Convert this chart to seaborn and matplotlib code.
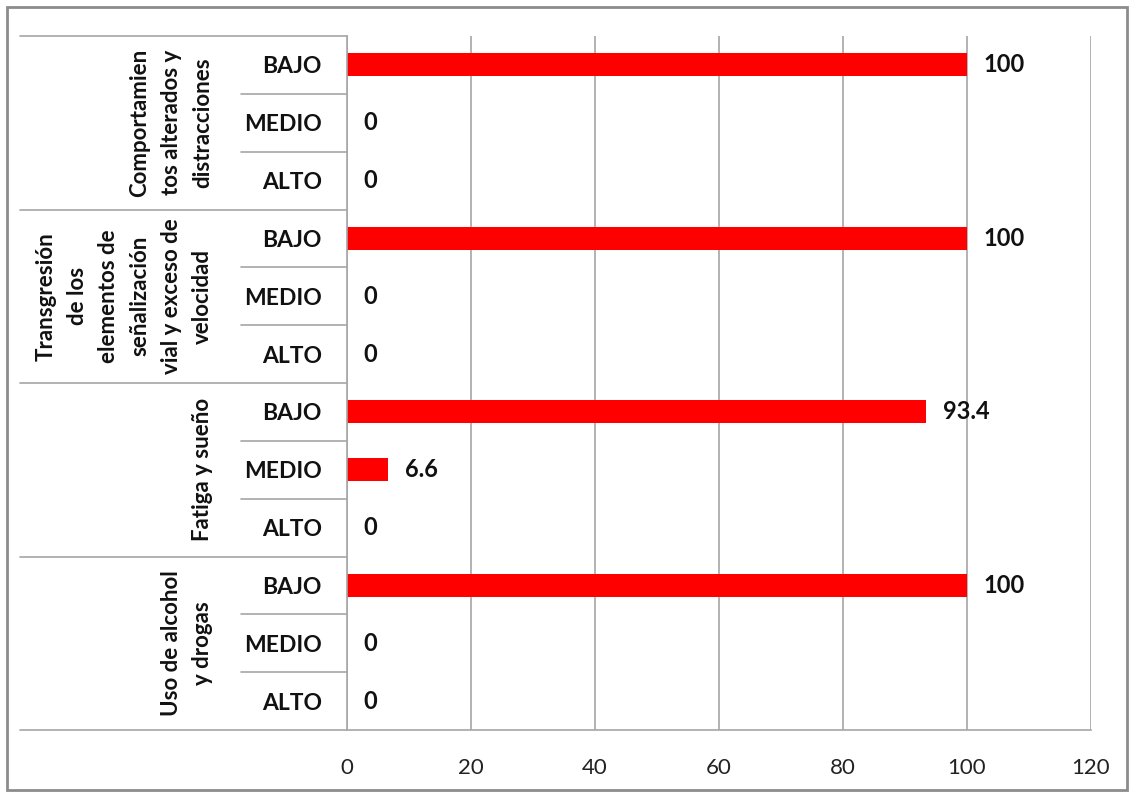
import matplotlib
matplotlib.use("Agg")
import matplotlib.pyplot as plt
from matplotlib.patches import Rectangle
import seaborn as sns
import pandas as pd

# datos
grupos = ["Comportamien\ntos alterados y\ndistracciones",
          "Transgresión\nde los\nelementos de\nseñalización\nvial y exceso de\nvelocidad",
          "Fatiga y sueño",
          "Uso de alcohol\ny drogas"]
niveles = ["BAJO", "MEDIO", "ALTO"]
comportamientos = [100, 0, 0]
transgresion = [100, 0, 0]
fatiga = [93.4, 6.6, 0]
alcohol = [100, 0, 0]
xticks = [0, 20, 40, 60, 80, 100, 120]

valores = comportamientos + transgresion + fatiga + alcohol
filas = []
for g in range(len(grupos)):
    for n in niveles:
        filas.append(f"{g}|{n}")
df = pd.DataFrame({"fila": filas, "valor": valores})

sns.set_style("white")
plt.rcParams['font.family'] = ['Lato', 'DejaVu Sans']

fig = plt.figure(figsize=(11.32, 7.94), dpi=100)
ax = fig.add_axes([347/1132, 1-730/794, (1091-347)/1132, (730-36)/794])

sns.barplot(data=df, x="valor", y="fila", orient="h", color="#FF0000",
            saturation=1, width=0.4, ax=ax, edgecolor="none")

ax.set_xlim(0, 120)
ax.set_ylim(11.5, -0.5)
ax.set_xticks(xticks)
ax.set_xticklabels([str(t) for t in xticks], fontsize=16, color="#222222")
ax.set_xlabel("")
ax.set_ylabel("")
ax.set_yticks(range(len(filas)))
ax.set_yticklabels([f.split("|")[1] for f in filas], fontsize=16.5,
                   fontweight="bold", color="#111111")
ax.tick_params(axis="y", length=0, pad=18)
ax.tick_params(axis="x", length=8, color="#999999", width=1.2, pad=12)

gris = "#a6a6a6"
ax.grid(axis="x", color=gris, linewidth=1.2)
ax.set_axisbelow(True)
for s in ["top", "right"]:
    ax.spines[s].set_visible(False)
for s in ["left", "bottom"]:
    ax.spines[s].set_color(gris)
    ax.spines[s].set_linewidth(1.2)

# etiquetas de valores
for cont in ax.containers:
    ax.bar_label(cont, labels=[f"{v:g}" for v in valores], padding=12,
                 fontsize=17, fontweight="bold", color="#111111")

# separadores de categorías
tr = ax.get_yaxis_transform()
x_grupo = (20-347)/(1091-347)
x_nivel = (241-347)/(1091-347)
for i in range(len(filas) + 1):
    y = i - 0.5
    x0 = x_grupo if i % 3 == 0 else x_nivel
    ax.plot([x0, 0], [y, y], transform=tr, color=gris, lw=1.2, clip_on=False)

# etiquetas de grupo
x_txt = (213-347)/(1091-347)
for g, nombre in enumerate(grupos):
    ax.text(x_txt, g*3 + 1, nombre, transform=tr, rotation=90, ha="right",
            va="center", multialignment="center", fontsize=16,
            fontweight="bold", color="#111111", linespacing=1.6)

# borde exterior
fig.patches.append(Rectangle((7/1132, 4/794), 1120/1132, 783/794,
                             transform=fig.transFigure, fill=False,
                             edgecolor="#8c8c8c", linewidth=2))

fig.savefig("out.png", dpi=100, facecolor="white")
